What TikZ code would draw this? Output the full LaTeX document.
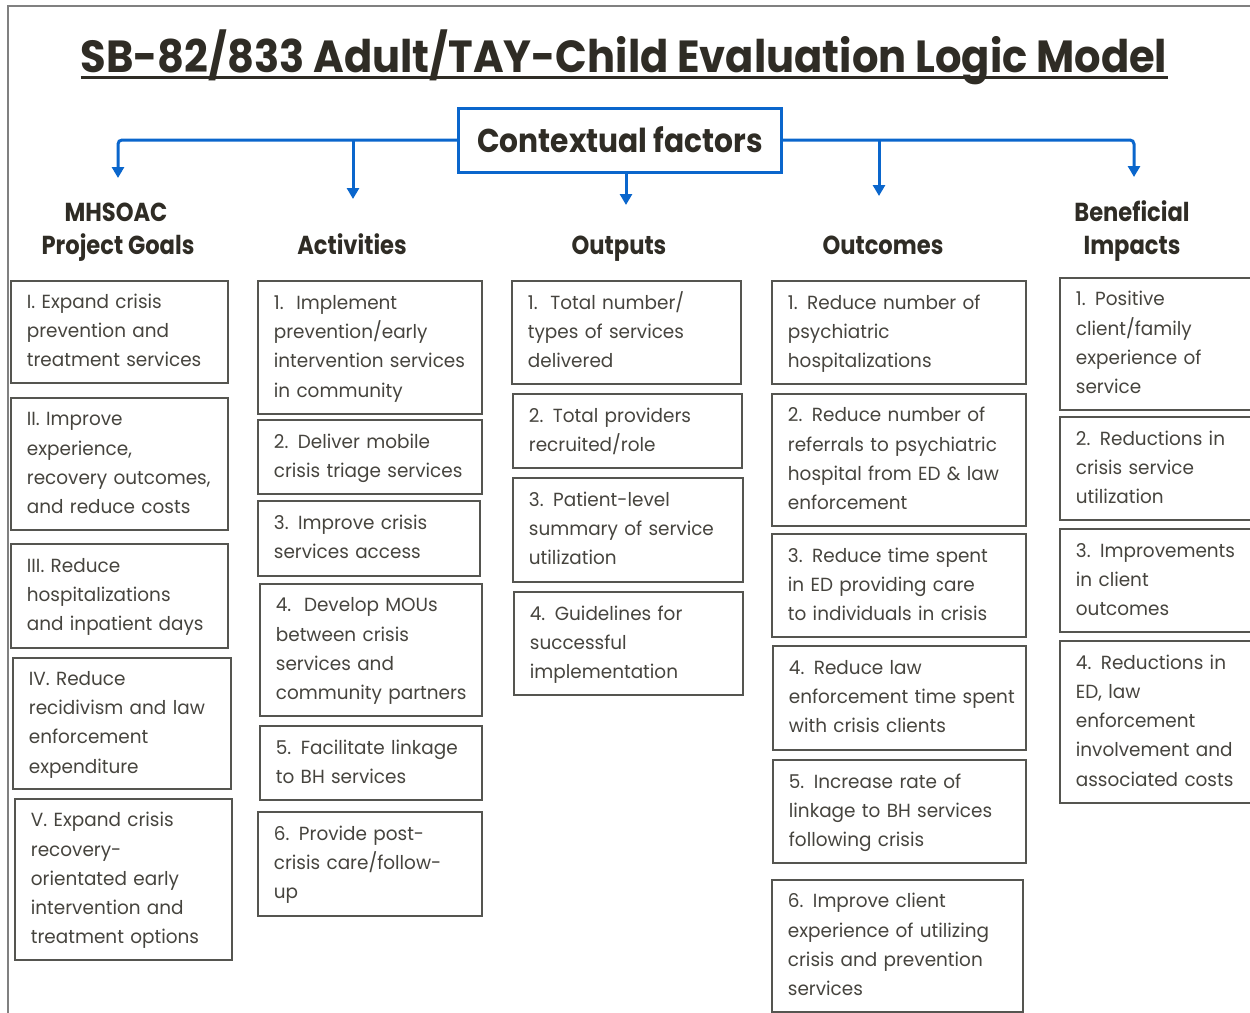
\documentclass[tikz,border=0pt]{standalone}
\usepackage{fontspec}
\setmainfont{Poppins}[FakeStretch=0.97]
\newfontfamily\hdfont{Poppins}[FakeStretch=0.87]
\newfontfamily\ttlfont{Poppins}[FakeStretch=0.925]
\newfontfamily\ctxfont{Poppins}[FakeStretch=0.9]
\usetikzlibrary{arrows.meta}
\definecolor{bl}{RGB}{10,102,204}
\definecolor{titlec}{RGB}{47,44,37}
\definecolor{txtc}{RGB}{70,68,62}
\definecolor{boxc}{RGB}{85,85,80}
\definecolor{framec}{RGB}{128,128,128}
\newcommand\lmbox[6]{%
  \pgfmathsetmacro\lmtw{#4-32}%
  \node[lmb, minimum height=#5pt, text width=\lmtw pt] (#1) at (#2,#3) {\begin{tabular}{@{}l@{}}#6\end{tabular}};}
\begin{document}
\begin{tikzpicture}[x=1pt,y=-1pt,
  lmb/.style={draw=boxc, line width=1.8pt, anchor=north west, align=left,
    inner xsep=16pt, inner ysep=0pt, text=txtc, font=\fontsize{19}{29.2}\selectfont},
  head/.style={font=\hdfont\fontsize{26}{34}\selectfont\bfseries, text=titlec, align=center, inner sep=0pt},
  arr/.style={draw=bl, line width=3pt, -{Triangle[width=12pt,length=11pt]}, rounded corners=4pt}]
\useasboundingbox (0,0) rectangle (1250,1012);
\clip (0,0) rectangle (1250,1012);
% frame
\draw[framec, line width=2.5pt] (8,1020) -- (8,6) -- (1260,6);
% title
\node[font=\ttlfont\fontsize{45}{50}\selectfont\bfseries, text=titlec, inner sep=0pt, anchor=base] (title) at (624,72) {SB-82/833 Adult/TAY-Child Evaluation Logic Model};
\draw[titlec, line width=3pt] ([yshift=-5.5pt]title.base west) -- ([yshift=-5.5pt]title.base east);
% contextual factors
\node[draw=bl, line width=3pt, minimum width=323pt, minimum height=64pt, inner sep=0pt,
  font=\ctxfont\fontsize{33}{40}\selectfont\bfseries, text=titlec] (ctx) at (620,140) {Contextual factors};
\coordinate (a1) at (118,178);
\coordinate (a2) at (353,199);
\coordinate (a3) at (626,205);
\coordinate (a4) at (879,196);
\coordinate (a5) at (1134,177);
\coordinate (j2) at (353,140);
\coordinate (j4) at (879,140);
\draw[arr] (ctx.west) -| (a1);
\draw[arr] (ctx.east) -| (a5);
\draw[arr] (j2) -- (a2);
\draw[arr] (j4) -- (a4);
\draw[arr] (ctx.south -| a3) -- (a3);
% headings
\node[head, anchor=base] (h1) at (116,221) {MHSOAC};
\node[head, anchor=base] (h1b) at (118,254) {Project Goals};
\node[head, anchor=base] (h2) at (352,254) {Activities};
\node[head, anchor=base] (h3) at (619,254) {Outputs};
\node[head, anchor=base] (h4) at (883,254) {Outcomes};
\node[head, anchor=base] (h5) at (1132,221) {Beneficial};
\node[head, anchor=base] (h5b) at (1132,254) {Impacts};
% goals
\lmbox{g1}{10}{280}{217}{102}{I. Expand crisis\\prevention and\\treatment services}
\lmbox{g2}{10}{397}{217}{132}{II. Improve\\experience,\\recovery outcomes,\\and reduce costs}
\lmbox{g3}{10}{543}{217}{104}{III. Reduce\\hospitalizations\\and inpatient days}
\lmbox{g4}{12}{657}{218}{131}{IV. Reduce\\recidivism and law\\enforcement\\expenditure}
\lmbox{g5}{14}{798}{217}{161}{V. Expand crisis\\recovery-\\orientated early\\intervention and\\treatment options}
% activities
\lmbox{c1}{257}{280}{224}{133}{1.\ \ Implement\\prevention/early\\intervention services\\in community}
\lmbox{c2}{257}{419}{224}{74}{2. Deliver mobile\\crisis triage services}
\lmbox{c3}{257}{500}{222}{75}{3. Improve crisis\\services access}
\lmbox{c4}{259}{583}{222}{132}{4.\ \ Develop MOUs\\between crisis\\services and\\community partners}
\lmbox{c5}{259}{725}{222}{74}{5. Facilitate linkage\\to BH services}
\lmbox{c6}{257}{811}{224}{104}{6. Provide post-\\crisis care/follow-\\up}
% outputs
\lmbox{o1}{511}{280}{229}{103}{1.\ \ Total number/\\types of services\\delivered}
\lmbox{o2}{512}{393}{229}{74}{2. Total providers\\recruited/role}
\lmbox{o3}{512}{477}{230}{104}{3. Patient-level\\summary of service\\utilization}
\lmbox{o4}{513}{591}{229}{103}{4. Guidelines for\\successful\\implementation}
% outcomes
\lmbox{u1}{771}{280}{254}{103}{1. Reduce number of\\psychiatric\\hospitalizations}
\lmbox{u2}{771}{393}{254}{132}{2. Reduce number of\\referrals to psychiatric\\hospital from ED \& law\\enforcement}
\lmbox{u3}{771}{533}{254}{103}{3. Reduce time spent\\in ED providing care\\to individuals in crisis}
\lmbox{u4}{772}{645}{253}{104}{4. Reduce law\\enforcement time spent\\with crisis clients}
\lmbox{u5}{772}{759}{253}{103}{5. Increase rate of\\linkage to BH services\\following crisis}
\lmbox{u6}{771}{879}{251}{132}{6. Improve client\\experience of utilizing\\crisis and prevention\\services}
% impacts
\lmbox{b1}{1059}{277}{193}{132}{1. Positive\\client/family\\experience of\\service}
\lmbox{b2}{1059}{416}{193}{103}{2. Reductions in\\crisis service\\utilization}
\lmbox{b3}{1059}{528}{193}{103}{3. Improvements\\in client\\outcomes}
\lmbox{b4}{1059}{640}{193}{162}{4. Reductions in\\ED, law\\enforcement\\involvement and\\associated costs}
\end{tikzpicture}
\end{document}
